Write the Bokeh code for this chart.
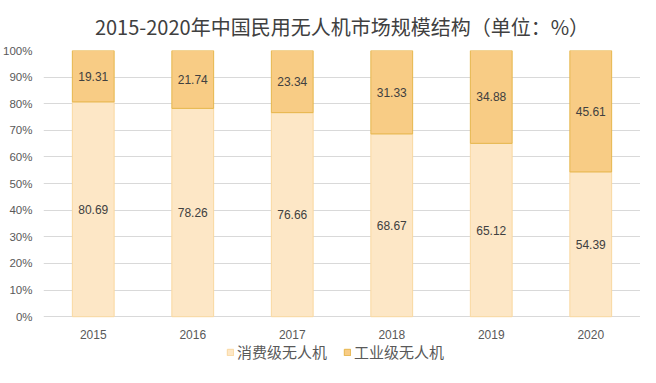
from bokeh.plotting import figure
from bokeh.models import ColumnDataSource, Legend, LegendItem, FixedTicker, Range1d, Title, CustomJSTickFormatter
from bokeh.core.properties import value
from bokeh.embed import file_html
from bokeh.resources import INLINE

years = ["2015", "2016", "2017", "2018", "2019", "2020"]
consumer = [80.69, 78.26, 76.66, 68.67, 65.12, 54.39]
industrial = [19.31, 21.74, 23.34, 31.33, 34.88, 45.61]
series_names = ["消费级无人机", "工业级无人机"]
title_text = "2015-2020年中国民用无人机市场规模结构（单位：%）"

ind_bottom = consumer
ind_top = [c + i for c, i in zip(consumer, industrial)]
src = ColumnDataSource(dict(
    x=years, consumer=consumer, industrial=industrial,
    cons_mid=[c / 2 for c in consumer],
    ind_mid=[c + i / 2 for c, i in zip(consumer, industrial)],
    cons_lbl=[f"{v:.2f}" for v in consumer],
    ind_lbl=[f"{v:.2f}" for v in industrial],
    ind_bottom=ind_bottom, ind_top=ind_top,
    lbl_y=[-6.6] * len(years),
))

# the frame extends below 0 so that the category labels and legend sit inside it
p = figure(x_range=years, y_range=Range1d(-17.2, 100), width=640, height=362,
           output_backend="svg", toolbar_location=None,
           min_border_left=32, min_border_right=0, min_border_top=0, min_border_bottom=0)
p.outline_line_color = None
p.background_fill_color = "white"

t = Title(text=title_text, align="center", text_font="Noto Sans CJK SC",
          text_font_size="20px", text_font_style="normal", text_color="#404040",
          standoff=19)
p.add_layout(t, "above")

r1 = p.vbar(x="x", top="consumer", bottom=0, width=0.42, source=src,
            fill_color="#FDE7C6", line_color="#F9D8A0", line_width=1)
r2 = p.vbar(x="x", top="ind_top", bottom="ind_bottom", width=0.42, source=src,
            fill_color="#F8CC85", line_color="#E6B64C", line_width=1)

p.text(x="x", y="cons_mid", text="cons_lbl", source=src, text_align="center",
       text_baseline="middle", text_font_size="12px", text_color="#404040",
       text_font=value("Liberation Sans"))
p.text(x="x", y="ind_mid", text="ind_lbl", source=src, text_align="center",
       text_baseline="middle", text_font_size="12px", text_color="#404040",
       text_font=value("Liberation Sans"))
# category labels
p.text(x="x", y="lbl_y", text="x", source=src, text_align="center",
       text_baseline="middle", text_font_size="12px", text_color="#595959",
       text_font=value("Liberation Sans"))

p.xaxis.visible = False
p.yaxis.ticker = FixedTicker(ticks=list(range(0, 101, 10)))
p.yaxis.formatter = CustomJSTickFormatter(code="return tick + '%';")
p.yaxis.axis_line_color = None
p.yaxis.major_tick_line_color = None
p.yaxis.minor_tick_line_color = None
p.yaxis.major_label_text_color = "#595959"
p.yaxis.major_label_text_font_size = "11.5px"
p.yaxis.major_label_text_font = "Liberation Sans"
p.yaxis.major_label_standoff = 5
p.xgrid.grid_line_color = None
p.ygrid.grid_line_color = "#D9D9D9"
p.ygrid.grid_line_width = 1

legend = Legend(items=[LegendItem(label=series_names[0], renderers=[r1]),
                       LegendItem(label=series_names[1], renderers=[r2])],
                orientation="horizontal", location=(183, 0),
                label_text_font="Noto Sans CJK SC", label_text_font_size="15px",
                label_text_color="#595959", glyph_width=8, glyph_height=8,
                spacing=16, border_line_color=None, background_fill_alpha=0,
                padding=0, margin=0, label_standoff=3, label_height=16)
p.add_layout(legend, "center")

open("out.html", "w").write(file_html(p, INLINE))
